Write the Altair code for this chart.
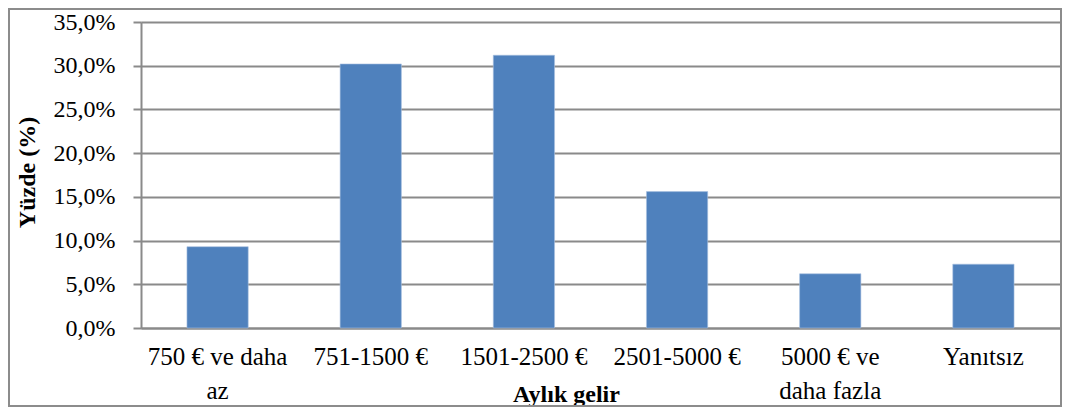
import altair as alt
import pandas as pd

categories = ["750 € ve daha|az", "751-1500 €", "1501-2500 €", "2501-5000 €", "5000 € ve|daha fazla", "Yanıtsız"]
values = [9.3, 30.2, 31.2, 15.6, 6.2, 7.3]

df = pd.DataFrame({"cat": categories, "val": values})

FONT = "'Liberation Serif', 'Times New Roman', 'DejaVu Serif', serif"
GRID = "#8a8a8a"

bars = alt.Chart(df).mark_bar(color="#4F81BD", stroke="#A9C1E0", strokeWidth=0.6).encode(
    x=alt.X("cat:N", sort=None,
            scale=alt.Scale(paddingInner=0.6, paddingOuter=0.3),
            axis=alt.Axis(title="Aylık gelir", labelAngle=0,
                          labelExpr="split(datum.label, '|')",
                          labelFont=FONT, labelFontSize=25, labelColor="#000000",
                          labelLineHeight=34, labelPadding=16,
                          ticks=False, domainColor=GRID, domainWidth=2,
                          titleFont=FONT, titleFontSize=24, titleFontWeight="bold",
                          titleColor="#000000", titleX=425, titleY=73,
                          titleAnchor="middle", titleAlign="center", titleBaseline="alphabetic")),
    y=alt.Y("val:Q",
            scale=alt.Scale(domain=[0, 35], nice=False),
            axis=alt.Axis(title="Yüzde (%)", values=[0, 5, 10, 15, 20, 25, 30, 35],
                          labelExpr="replace(format(datum.value, '.1f'), '.', ',') + '%'",
                          labelFont=FONT, labelFontSize=24, labelColor="#000000",
                          labelPadding=18, tickSize=8, tickColor=GRID, tickWidth=2,
                          domainColor=GRID, domainWidth=2,
                          gridColor=GRID, gridWidth=2,
                          titleFont=FONT, titleFontSize=24, titleFontWeight="bold",
                          titleColor="#000000", titleAngle=-90,
                          titleX=-114, titleY=150, titleAlign="center",
                          titleBaseline="middle")),
)

frame = alt.Chart(df).mark_rect(fill=None, stroke="#8c8c8c", strokeWidth=2, clip=False).encode(
    x=alt.value(-132), x2=alt.value(920), y=alt.value(-13), y2=alt.value(384)
)

chart = alt.layer(frame, bars).properties(
    width=919, height=306,
    padding={"left": 133, "top": 14, "right": 2, "bottom": 79},
    autosize=alt.AutoSizeParams(type="none"),
).configure_view(stroke=None).configure(background="white", font=FONT)

chart.save("out.html", embed_options={"renderer": "svg", "actions": False})
